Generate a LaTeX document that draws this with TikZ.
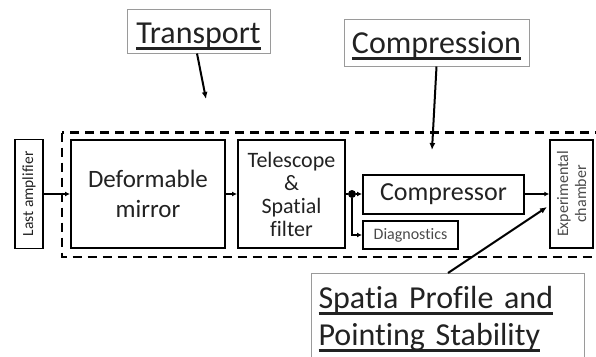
\documentclass[tikz,border=0pt]{standalone}
\usepackage{fontspec}
\setmainfont{Carlito}[Ligatures={NoCommon,NoContextual}]
\usetikzlibrary{arrows.meta,calc,positioning}

\definecolor{ink}{HTML}{222222}
\definecolor{soft}{HTML}{4A4A4A}
\definecolor{rim}{HTML}{9A9A9A}

\newsavebox{\ulbox}
\newcommand{\ulbar}[1]{\leavevmode\sbox\ulbox{#1}\rlap{\rule[-6.5pt]{\wd\ulbox}{3pt}}\usebox\ulbox}

\begin{document}
\begin{tikzpicture}[x=1pt,y=-1pt,
  block/.style={draw=black,line width=2pt,inner sep=0pt,align=center,text=ink},
  topic/.style={draw=rim,line width=1pt,text=ink,font=\fontsize{32}{37}\selectfont},
  flow/.style={line width=1.5pt,-{Latex[length=5pt,width=5pt]}},
  callout/.style={line width=2pt,-{Latex[length=7pt,width=6pt]}},
  bound/.style={line width=2.5pt,dash pattern=on 9pt off 6pt}]

\clip (0,0) rectangle (596,356);

\draw[bound] (62,132.5) rectangle (606,257);

\node[block,line width=1.5pt,rotate=90,minimum width=109pt,minimum height=28pt,
   font=\fontsize{15.5}{18}\selectfont] (amp) at (29,194) {Last amplifier};
\node[block,minimum width=154pt,minimum height=108pt,
   font=\fontsize{25}{30}\selectfont] (mirror) at (148,194) {Deformable\\mirror};
\node[block,minimum width=107pt,minimum height=108pt,
   font=\fontsize{22}{23}\selectfont] (telescope) at (291.5,194) {Telescope\\\&\\Spatial\\filter};
\node[block,minimum width=161pt,minimum height=39pt,
   font=\fontsize{26}{30}\selectfont] (compressor) at (443.5,194) {Compressor};
\node[block,minimum width=95pt,minimum height=28pt,text=soft,
   font=\fontsize{16}{18}\selectfont] (diag) at (410.5,235) {Diagnostics};
\node[block,line width=1.5pt,rotate=90,minimum width=108pt,minimum height=43pt,text=soft,
   font=\fontsize{16}{18}\selectfont] (chamber) at (571.5,194) {Experimental\\chamber};

\node[circle,fill=black,inner sep=0pt,minimum size=8pt] (split) at (352,194) {};

\foreach \a/\b in {amp/mirror,mirror/telescope,split/compressor,compressor/chamber}
  {\draw[flow] (\a) -- (\b);}
\draw[line width=1.5pt] (telescope) -- (split);
\draw[flow] (split.south) |- (diag.west);

\node[topic,minimum width=143pt,inner sep=2pt,text height=32pt,text depth=8pt]
   (transport) at (198.5,31) {\ulbar{Transport}};
\node[topic,minimum width=185pt,inner sep=2pt,text height=32.3pt,text depth=10.7pt]
   (compression) at (436.5,42.5) {\ulbar{Compression}};
\node[topic,anchor=north west,inner xsep=7pt,inner ysep=0pt,text width=259pt,align=left]
   (pointing) at (311,273)
   {\rule{0pt}{35pt}\ulbar{Spatia Profile and}\\\ulbar{Pointing Stability}\rule[-20pt]{0pt}{20pt}};

\coordinate (ttip) at (206,99);
\coordinate (ctip) at (432,150);
\coordinate (ptip) at (547,207);

\draw[callout] ($(transport.south)+(-1.5,0)$) -- (ttip);
\draw[callout] (compression.south) -- (ctip);
\draw[callout] ($(pointing.north west)+(137,0)$) -- (ptip);

\end{tikzpicture}
\end{document}
